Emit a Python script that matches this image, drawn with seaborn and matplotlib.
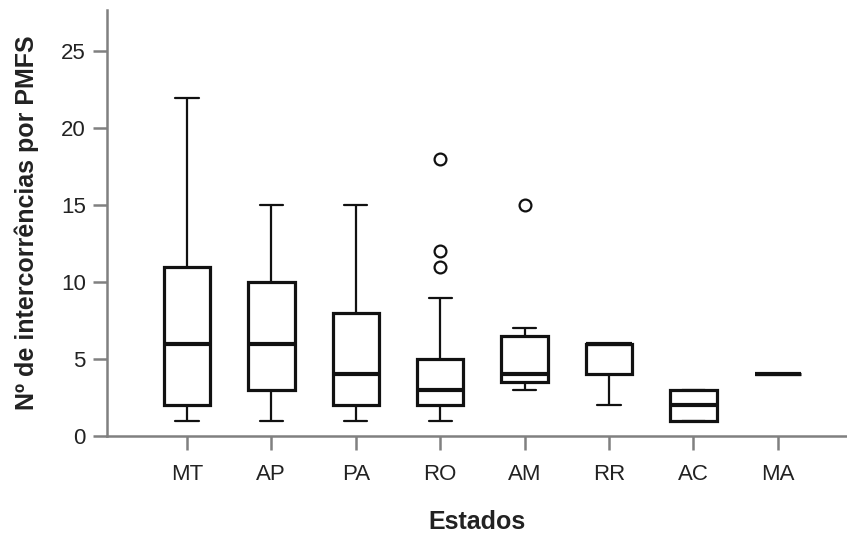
import matplotlib
matplotlib.use("Agg")
import matplotlib.pyplot as plt
import pandas as pd
import seaborn as sns

# Nº de intercorrências por PMFS, por estado
estados = ["MT", "AP", "PA", "RO", "AM", "RR", "AC", "MA"]
mt = [1, 2, 6, 11, 22]
ap = [1, 3, 6, 10, 15]
pa = [1, 2, 4, 8, 15]
ro = [1, 1, 2, 2, 2, 2, 3, 3, 3, 4, 4, 5, 5, 9, 11, 12, 18]
am = [3, 3, 4, 4, 6, 7, 15]
rr = [2, 4, 6, 6, 6]
ac = [1, 1, 2, 3, 3]
ma = [4, 4]
yticks = [0, 5, 10, 15, 20, 25]

valores = [mt, ap, pa, ro, am, rr, ac, ma]
df = pd.DataFrame(
    [(e, v) for e, vals in zip(estados, valores) for v in vals],
    columns=["estado", "n"],
)

sns.set_theme(style="ticks")
plt.rcParams["font.family"] = ["Liberation Sans", "DejaVu Sans"]
text_color = "#222222"
axis_color = "#808080"

fig = plt.figure(figsize=(8.47, 5.34), dpi=100)
ax = fig.add_axes([0.126, 0.1835, 0.874, 0.798])

sns.boxplot(
    data=df, x="estado", y="n", order=estados, ax=ax,
    color="white", linecolor="#111111", width=0.55, linewidth=1.6,
    fliersize=8.5,
    boxprops={"linewidth": 2.3},
    whiskerprops={"linewidth": 1.6},
    capprops={"linewidth": 1.6},
    flierprops={"marker": "o", "markerfacecolor": "none",
                "markeredgecolor": "#111111", "markeredgewidth": 1.6},
    medianprops={"linewidth": 3.0, "color": "#111111"},
)

ax.set_xlim(-0.95, 7.82)
ax.set_ylim(0, 27.7)
ax.set_yticks(yticks)

for side in ["top", "right"]:
    ax.spines[side].set_visible(False)
for side in ["left", "bottom"]:
    ax.spines[side].set_color(axis_color)
    ax.spines[side].set_linewidth(1.8)

ax.tick_params(axis="both", colors=axis_color, width=1.8, length=10,
               labelsize=16, labelcolor=text_color)
ax.tick_params(axis="y", pad=5)
ax.tick_params(axis="x", pad=10)

ax.set_xlabel("Estados", fontsize=18, fontweight="bold", color=text_color, labelpad=18)
ax.set_ylabel("Nº de intercorrências por PMFS", fontsize=18, fontweight="bold",
              color=text_color, labelpad=16)

fig.savefig("out.png", dpi=100)
